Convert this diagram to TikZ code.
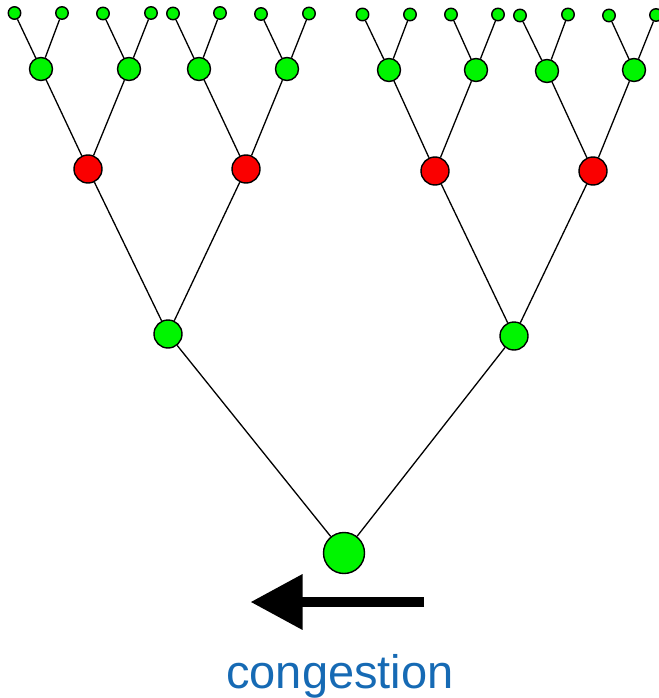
\documentclass[tikz,border=0pt]{standalone}
\usepackage{fontspec}
\setmainfont{Liberation Sans}
\usetikzlibrary{arrows.meta}
\definecolor{nodegreen}{RGB}{0,245,0}
\definecolor{nodered}{RGB}{250,0,0}
\definecolor{labelblue}{RGB}{22,106,180}
\begin{document}
\begin{tikzpicture}[x=1pt,y=-1pt,
  nd/.style={circle,draw=black,line width=1.4pt,inner sep=0pt,minimum size=#1},
  gn/.style={nd=#1,fill=nodegreen},
  rn/.style={nd=#1,fill=nodered},
  edge/.style={line width=1.3pt}]
\useasboundingbox (0,0) rectangle (658,698);
% root and levels
\node[gn=41pt] (r) at (344,553) {};
\node[gn=28pt] (a) at (168,334) {};
\node[gn=28pt] (b) at (514,336) {};
\node[rn=28pt] (a1) at (88,169) {};
\node[rn=28pt] (a2) at (246,169) {};
\node[rn=28pt] (b1) at (435,171) {};
\node[rn=28pt] (b2) at (593,171) {};
\node[gn=23pt] (g1) at (41,69) {};
\node[gn=23pt] (g2) at (129,69) {};
\node[gn=23pt] (g3) at (199,69) {};
\node[gn=23pt] (g4) at (287,69) {};
\node[gn=23pt] (g5) at (389,70) {};
\node[gn=23pt] (g6) at (476,70) {};
\node[gn=23pt] (g7) at (547,71) {};
\node[gn=23pt] (g8) at (634,70) {};
\node[gn=12.5pt] (l1) at (14.5,13) {};
\node[gn=12.5pt] (l2) at (62,13) {};
\node[gn=12.5pt] (l3) at (103,13.5) {};
\node[gn=12.5pt] (l4) at (151,13) {};
\node[gn=12.5pt] (l5) at (173,13.5) {};
\node[gn=12.5pt] (l6) at (220,13) {};
\node[gn=12.5pt] (l7) at (261,14) {};
\node[gn=12.5pt] (l8) at (309,13.5) {};
\node[gn=12.5pt] (l9) at (362.5,14.5) {};
\node[gn=12.5pt] (l10) at (410,14.5) {};
\node[gn=12.5pt] (l11) at (451,14.5) {};
\node[gn=12.5pt] (l12) at (498,14.5) {};
\node[gn=12.5pt] (l13) at (520,15.5) {};
\node[gn=12.5pt] (l14) at (568,14.5) {};
\node[gn=12.5pt] (l15) at (609,15.5) {};
\node[gn=12.5pt] (l16) at (656,15) {};
% edges
\draw[edge] (r)--(a) (r)--(b)
  (a)--(a1) (a)--(a2) (b)--(b1) (b)--(b2)
  (a1)--(g1) (a1)--(g2) (a2)--(g3) (a2)--(g4)
  (b1)--(g5) (b1)--(g6) (b2)--(g7) (b2)--(g8)
  (g1)--(l1) (g1)--(l2) (g2)--(l3) (g2)--(l4)
  (g3)--(l5) (g3)--(l6) (g4)--(l7) (g4)--(l8)
  (g5)--(l9) (g5)--(l10) (g6)--(l11) (g6)--(l12)
  (g7)--(l13) (g7)--(l14) (g8)--(l15) (g8)--(l16);
% arrow
\coordinate (as) at (424,602);
\coordinate (ae) at (250.5,602);
\draw[line width=10pt,-{Triangle[length=52pt,width=53pt]}] (as) -- (ae);
\node[text=labelblue,font=\fontsize{47}{56}\selectfont,inner sep=0pt,anchor=base] (lbl) at (340,688) {congestion};
\end{tikzpicture}
\end{document}
